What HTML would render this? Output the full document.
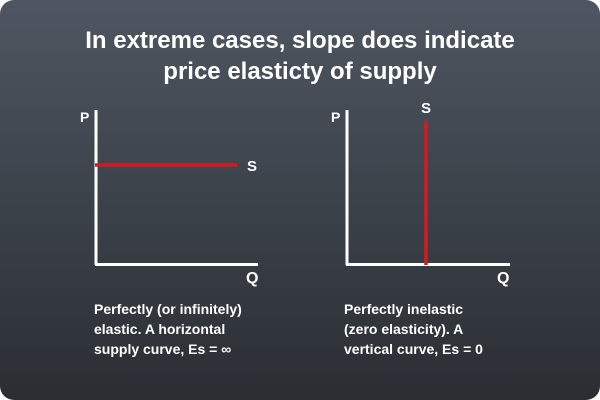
<!DOCTYPE html>
<html><head><style>
html,body{margin:0;padding:0;background:#fff;}
#card{position:relative;width:600px;height:400px;border-radius:14px;overflow:hidden;background:linear-gradient(#4e5661,#2a2e33);font-family:"Liberation Sans",sans-serif;color:#fff;}
.t{position:absolute;font-weight:bold;}
</style></head><body>
<div id="card">
<div class="t" style="left:0;width:600px;top:25px;text-align:center;font-size:24px;line-height:31px;">In extreme cases, slope does indicate<br>price elasticty of supply</div>
<svg width="600" height="400" style="position:absolute;left:0;top:0">
<g>
<line x1="96" y1="110" x2="96" y2="265" stroke="#fff" stroke-width="3"/>
<line x1="95" y1="264.5" x2="258" y2="264.5" stroke="#fff" stroke-width="3"/>
<line x1="95" y1="165" x2="237" y2="165" stroke="#d7191f" stroke-width="3.5"/>
<text x="80" y="122" font-size="14" font-weight="bold" fill="#fff" font-family="Liberation Sans">P</text>
<text x="247" y="171" font-size="15" font-weight="bold" fill="#fff" font-family="Liberation Sans">S</text>
<text x="246" y="283" font-size="16" font-weight="bold" fill="#fff" font-family="Liberation Sans">Q</text>
</g>
<g>
<line x1="347" y1="110" x2="347" y2="265" stroke="#fff" stroke-width="3"/>
<line x1="346" y1="264.5" x2="510" y2="264.5" stroke="#fff" stroke-width="3"/>
<line x1="426" y1="121" x2="426" y2="265" stroke="#d7191f" stroke-width="3.5"/>
<text x="331" y="122" font-size="14" font-weight="bold" fill="#fff" font-family="Liberation Sans">P</text>
<text x="421" y="113" font-size="15" font-weight="bold" fill="#fff" font-family="Liberation Sans">S</text>
<text x="497" y="283" font-size="16" font-weight="bold" fill="#fff" font-family="Liberation Sans">Q</text>
</g>
</svg>
<div class="t" style="left:94px;top:299px;font-size:14px;line-height:20px;">Perfectly (or infinitely)<br>elastic. A horizontal<br>supply curve, Es = ∞</div>
<div class="t" style="left:344px;top:299px;font-size:14px;line-height:20px;">Perfectly inelastic<br>(zero elasticity). A<br>vertical curve, Es = 0</div>
</div>
</body></html>
